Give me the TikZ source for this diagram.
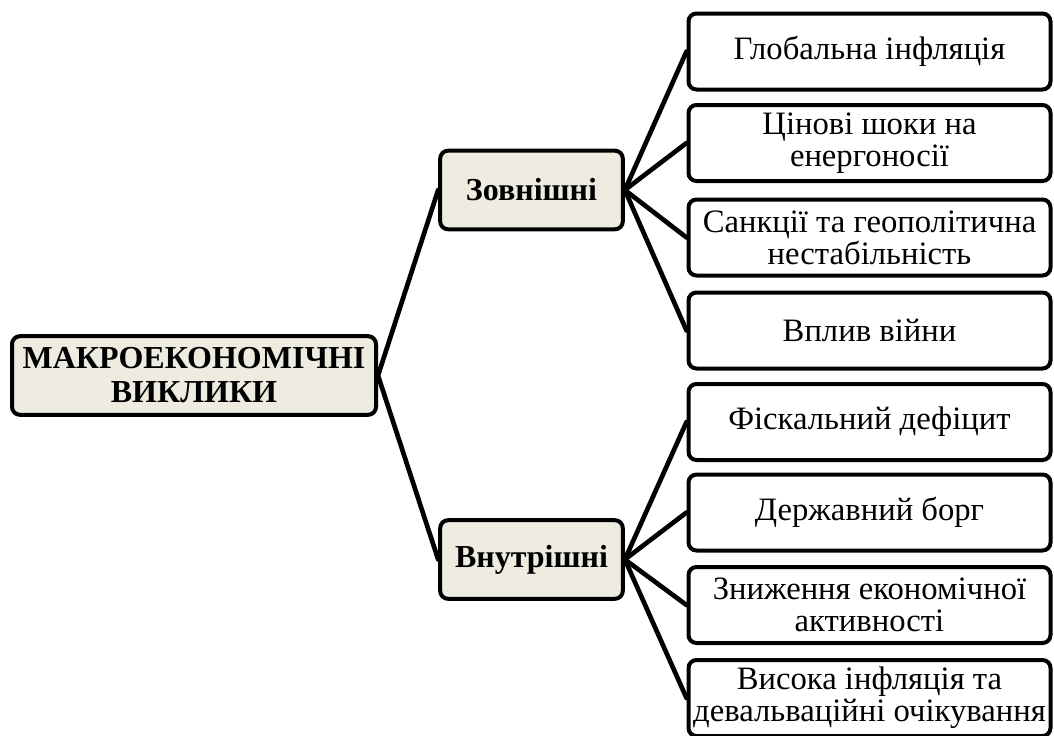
\documentclass[tikz,border=0pt]{standalone}
\usepackage{fontspec}
\setmainfont{Liberation Serif}
\definecolor{boxtan}{HTML}{EEECE1}
\tikzset{
	box/.style={draw,line width=3pt,rounded corners=6pt,align=center,inner sep=0pt},
	head/.style={box,fill=boxtan,font=\bfseries\fontsize{24}{25.5}\selectfont,minimum height=59pt},
	leaf/.style={box,fill=white,font=\fontsize{24.5}{24}\selectfont,minimum width=271.5pt,minimum height=57pt},
	link/.style={line width=3.5pt,line cap=round},
}
\begin{document}
\begin{tikzpicture}[x=0.75pt,y=-0.75pt]
	\clip (0,0) rectangle (1054,736);
	\node[head,minimum width=273pt] (challenges) at (194,375.5) {МАКРОЕКОНОМІЧНІ\\ВИКЛИКИ};
	\node[head,minimum width=137pt] (external) at (531.5,190) {Зовнішні};
	\node[head,minimum width=137pt] (internal) at (531.5,559.5) {Внутрішні};
	\foreach \y/\n/\t in {51.5/e1/{Глобальна інфляція},
		143/e2/{Цінові шоки на\\енергоносії},
		237.5/e3/{Санкції та геополітична\\нестабільність},
		330.5/e4/{Вплив війни},
		422/i1/{Фіскальний дефіцит},
		512.5/i2/{Державний борг},
		605/i3/{Зниження економічної\\активності},
		698/i4/{Висока інфляція та\\девальваційні очікування}}{
		\node[leaf] (\n) at (869.5,\y) {\t};
	}
	\draw[link] (challenges.east) -- (external.west);
	\draw[link] (challenges.east) -- (internal.west);
	\foreach \n in {e1,e2,e3,e4}{
		\draw[link] (external.east) -- (\n.west);
	}
	\foreach \n in {i1,i2,i3,i4}{
		\draw[link] (internal.east) -- (\n.west);
	}
\end{tikzpicture}
\end{document}
